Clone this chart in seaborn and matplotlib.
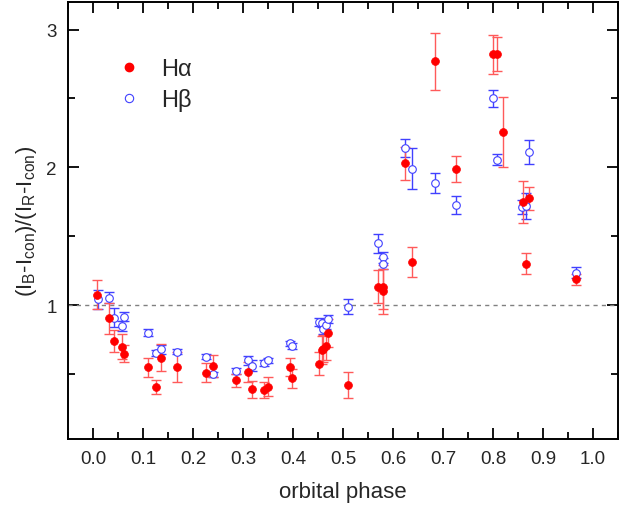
import numpy as np
import pandas as pd
import matplotlib
matplotlib.use("Agg")
import matplotlib.pyplot as plt
import seaborn as sns
from matplotlib.lines import Line2D
from matplotlib.ticker import MultipleLocator

# H-alpha data
ha_phase = [0.007, 0.032, 0.042, 0.058, 0.062, 0.110, 0.125, 0.135, 0.167, 0.225,
            0.240, 0.286, 0.310, 0.317, 0.341, 0.349, 0.393, 0.398, 0.451, 0.457,
            0.460, 0.466, 0.469, 0.509, 0.569, 0.579, 0.580, 0.624, 0.637, 0.684,
            0.726, 0.799, 0.807, 0.819, 0.859, 0.871, 0.866, 0.966]
ha_ratio = [1.075, 0.905, 0.74, 0.70, 0.65, 0.55, 0.41, 0.62, 0.55, 0.51,
            0.56, 0.455, 0.515, 0.39, 0.385, 0.41, 0.55, 0.47, 0.576, 0.675,
            0.685, 0.705, 0.80, 0.42, 1.133, 1.133, 1.10, 2.03, 1.315, 2.77,
            1.99, 2.82, 2.823, 2.256, 1.75, 1.776, 1.30, 1.19]
ha_err = [0.105, 0.11, 0.08, 0.09, 0.06, 0.07, 0.05, 0.10, 0.11, 0.07,
          0.08, 0.045, 0.07, 0.06, 0.06, 0.07, 0.065, 0.07, 0.085, 0.10,
          0.10, 0.10, 0.10, 0.095, 0.12, 0.16, 0.16, 0.12, 0.11, 0.205,
          0.095, 0.14, 0.12, 0.255, 0.15, 0.083, 0.076, 0.04]

# H-beta data
hb_phase = [0.009, 0.032, 0.042, 0.062, 0.058, 0.110, 0.125, 0.135, 0.167, 0.225,
            0.240, 0.286, 0.310, 0.317, 0.341, 0.349, 0.393, 0.398, 0.451, 0.457,
            0.460, 0.466, 0.469, 0.509, 0.569, 0.579, 0.580, 0.624, 0.637, 0.684,
            0.726, 0.799, 0.807, 0.857, 0.866, 0.871, 0.966]
hb_ratio = [1.044, 1.055, 0.91, 0.918, 0.85, 0.80, 0.653, 0.68, 0.663, 0.627,
            0.498, 0.522, 0.60, 0.56, 0.583, 0.60, 0.724, 0.705, 0.88, 0.874,
            0.825, 0.855, 0.90, 0.99, 1.45, 1.347, 1.30, 2.14, 1.99, 1.887,
            1.727, 2.50, 2.057, 1.715, 1.72, 2.11, 1.237]
hb_err = [0.07, 0.04, 0.067, 0.03, 0.036, 0.025, 0.02, 0.035, 0.02, 0.02,
          0.02, 0.02, 0.03, 0.04, 0.02, 0.02, 0.02, 0.02, 0.03, 0.03,
          0.03, 0.03, 0.03, 0.055, 0.07, 0.04, 0.04, 0.065, 0.15, 0.07,
          0.065, 0.063, 0.04, 0.05, 0.093, 0.087, 0.04]

x_ticks = [0.0, 0.1, 0.2, 0.3, 0.4, 0.5, 0.6, 0.7, 0.8, 0.9, 1.0]
y_ticks = [1, 2, 3]

ha = pd.DataFrame({"phase": ha_phase, "ratio": ha_ratio, "err": ha_err})
hb = pd.DataFrame({"phase": hb_phase, "ratio": hb_ratio, "err": hb_err})

sns.set_theme(style="ticks")
plt.rcParams["font.family"] = ["Liberation Sans", "DejaVu Sans"]
plt.rcParams["mathtext.fontset"] = "custom"
plt.rcParams["mathtext.rm"] = "Liberation Sans"
plt.rcParams["mathtext.it"] = "Liberation Sans"

fig = plt.figure(figsize=(6.22, 5.10), dpi=100)
ax = fig.add_axes([68 / 622, 1 - 440 / 510, (618 - 68) / 622, (440 - 3) / 510])

red = "#ff0000"
red_bar = "#ff5a5a"
blue = "#4040ff"

ax.axhline(1.0, color="#808080", lw=1.0, ls=(0, (3, 3)), zorder=1)

ax.errorbar(hb["phase"], hb["ratio"], yerr=hb["err"], fmt="none", ecolor=blue,
            elinewidth=1.0, capsize=3.5, capthick=1.0, zorder=2)
ax.errorbar(ha["phase"], ha["ratio"], yerr=ha["err"], fmt="none", ecolor=red_bar,
            elinewidth=1.0, capsize=3.5, capthick=1.0, zorder=3)

sns.scatterplot(data=hb, x="phase", y="ratio", ax=ax, marker="o", s=30,
                facecolor="white", edgecolor=blue, linewidth=0.8, zorder=4)
sns.scatterplot(data=ha, x="phase", y="ratio", ax=ax, marker="o", s=32,
                color=red, edgecolor=red, linewidth=0.5, zorder=5)

ax.set_xlim(-0.05, 1.05)
ax.set_ylim(0.03, 3.2)
ax.set_xticks(x_ticks)
ax.set_xticklabels([f"{t:.1f}" for t in x_ticks])
ax.set_yticks(y_ticks)
ax.set_yticklabels([str(t) for t in y_ticks])
ax.xaxis.set_minor_locator(MultipleLocator(0.05))
ax.yaxis.set_minor_locator(MultipleLocator(0.5))
ax.tick_params(which="both", direction="in", top=True, right=True, width=1.3,
               color="black", labelsize=13.5, pad=8)
ax.tick_params(which="major", length=8)
ax.tick_params(which="minor", length=5)
for sp in ax.spines.values():
    sp.set_linewidth(1.4)
    sp.set_color("black")

ax.set_xlabel("orbital phase", fontsize=16, labelpad=10)
ax.set_ylabel(r"(I$_{\rm B}$-I$_{\rm con}$)/(I$_{\rm R}$-I$_{\rm con}$)", fontsize=16, labelpad=5)

handles = [Line2D([], [], marker="o", ls="none", color=red, markersize=6),
           Line2D([], [], marker="o", ls="none", markerfacecolor="white",
                  markeredgecolor=blue, markeredgewidth=0.8, markersize=6)]
ax.legend(handles, ["H\u03b1", "H\u03b2"], loc="upper left", bbox_to_anchor=(0.05, 0.92),
          frameon=False, fontsize=17, handletextpad=0.9, labelspacing=0.35,
          handlelength=1.0)

fig.savefig("out.png", dpi=100)
